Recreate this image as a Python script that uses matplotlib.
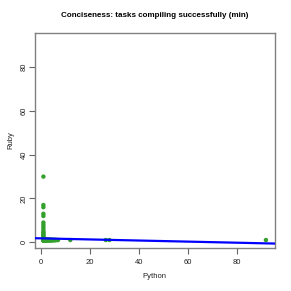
import numpy as np
import matplotlib
matplotlib.use("Agg")
import matplotlib.pyplot as plt

# Column of tasks at Python = 1 (Ruby values)
col_ruby = [30, 17, 16, 13, 12, 9, 8, 7, 6, 5, 4.5, 4, 3.5, 3, 2.5, 2, 1.5]
# Tasks at Ruby = 1 with small Python values (distinct values and how many overlap)
row_python = [1, 1.5, 2, 2.5, 3, 3.5, 4, 4.5, 5, 5.5, 6, 6.5, 7]
row_counts = [60, 25, 20, 12, 10, 8, 7, 5, 5, 3, 3, 1, 1]
# Isolated tasks at Ruby = 1
out_python = [12, 26.5, 28, 92]
out_ruby = [1, 1, 1, 1]

x_ticks = [0, 20, 40, 60, 80]
y_ticks = [0, 20, 40, 60, 80]
title = "Conciseness: tasks compiling successfully (min)"

x = np.concatenate([np.ones(len(col_ruby)),
                    np.repeat(row_python, row_counts),
                    out_python]).astype(float)
y = np.concatenate([col_ruby,
                    np.ones(int(np.sum(row_counts))),
                    out_ruby]).astype(float)

plt.rcParams['font.family'] = ['Liberation Sans', 'DejaVu Sans']

W = 291.0
fig = plt.figure(figsize=(2.91, 2.91), dpi=100)
L, R, T, B = 34.5, 274.8, 33, 248
ax = fig.add_axes([L/W, (W-B)/W, (R-L)/W, (B-T)/W])

lo = min(x.min(), y.min())
hi = max(x.max(), y.max())
ext = (hi - lo) * 0.04
ax.set_xlim(lo - ext, hi + ext)
ax.set_ylim(lo - ext, hi + ext)

ax.scatter(x, y, s=10, color='#33a02c', edgecolors='none', zorder=3)

slope, intercept = np.polyfit(x, y, 1)
xs = np.array(ax.get_xlim())
ax.plot(xs, intercept + slope * xs, color='#0000ff', lw=1.6, zorder=4)

for s in ax.spines.values():
    s.set_color('#808080')
    s.set_linewidth(1.0)

ax.set_xticks(x_ticks)
ax.set_yticks(y_ticks)
ax.tick_params(axis='both', colors='#666666', labelcolor='#222222',
               labelsize=5.5, length=4, width=0.8)
ax.tick_params(axis='x', pad=4)
ax.tick_params(axis='y', pad=0.8)
for lab in ax.get_yticklabels():
    lab.set_rotation(90)
    lab.set_va('center')

fig.text((L + R) / 2 / W, 1 - 277/W, "Python", ha='center', va='center',
         fontsize=5.5, color='#222222')
fig.text(10.7 / W, 1 - (T + B) / 2 / W, "Ruby", ha='center', va='center',
         rotation=90, fontsize=5.5, color='#222222')
fig.text((L + R) / 2 / W, 1 - 15.5/W, title, ha='center', va='center',
         fontsize=5.8, fontweight='bold')

fig.savefig("out.png", dpi=100)
